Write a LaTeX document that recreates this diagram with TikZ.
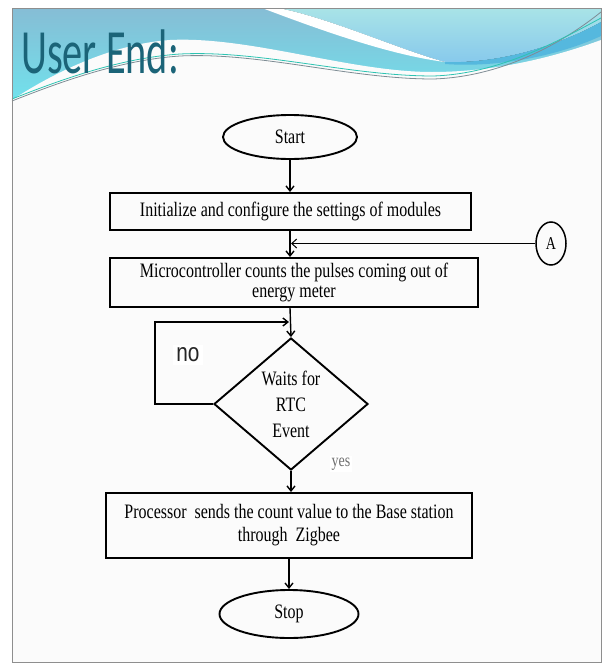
\documentclass[tikz,border=0pt]{standalone}
\usepackage{fontspec}
\setmainfont{Liberation Serif}[FakeStretch=0.78]
\newfontfamily\titlefont{Carlito}[FakeStretch=0.64]
\newfontfamily\labelsans{Liberation Sans}[FakeStretch=0.8]
\usetikzlibrary{shapes.geometric,arrows.meta}
\definecolor{hdtop}{HTML}{86BDD5}
\definecolor{hdbot}{HTML}{6FE4EE}
\definecolor{lighttop}{HTML}{A9E4E7}
\definecolor{lightbot}{HTML}{86C8EC}
\definecolor{stripblue}{HTML}{55B8DE}
\definecolor{bgwhite}{HTML}{FBFBFB}
\definecolor{framegray}{HTML}{8E8E8E}
\definecolor{linegray}{HTML}{7E8C94}
\definecolor{lineteal}{HTML}{2DC3B2}
\definecolor{titlecol}{HTML}{1B6478}
\definecolor{yesgray}{HTML}{707070}
\begin{document}
\begin{tikzpicture}[x=1pt,y=-1pt,
  flowbox/.style={draw=black, line width=1.9pt, rectangle, inner sep=0pt, align=center,
    font=\fontsize{20.5}{20.5}\selectfont},
  term/.style={draw=black, line width=1.9pt, ellipse, inner sep=0pt,
    font=\fontsize{20.5}{20.5}\selectfont},
  decision/.style={draw=black, line width=1.9pt, diamond, inner sep=0pt, align=center,
    font=\fontsize{20.5}{26}\selectfont},
  arr/.style={line width=1.4pt, -{Straight Barb[length=5pt,width=8pt]}},
  thinarr/.style={line width=1pt, -{Straight Barb[length=5pt,width=9pt]}}]
\useasboundingbox (0,0) rectangle (607,664);
% slide background and header
\fill[white] (0,0) rectangle (607,664);
\fill[top color=hdtop, bottom color=hdbot] (12,8) rectangle (601,108);
\fill[top color=lighttop, bottom color=lightbot] (278,8) .. controls (330,18) and (400,50) .. (445,62)
  .. controls (500,64) and (560,45) .. (601,22) -- (601,8) -- cycle;
\fill[stripblue] (445,62) .. controls (500,64) and (560,45) .. (601,22) -- (601,36)
  .. controls (560,55) and (500,68) .. (445,64) -- cycle;
\fill[white] (278,8) .. controls (330,18) and (400,50) .. (445,62)
  .. controls (390,55) and (320,30) .. (262,8) -- cycle;
\fill[bgwhite] (12,100) .. controls (50,75) and (110,44) .. (170,40)
  .. controls (250,36) and (350,72) .. (432,72) .. controls (500,72) and (560,55) .. (601,40)
  -- (601,662) -- (12,662) -- cycle;
\draw[linegray, line width=0.8pt] (12,101) .. controls (60,82) and (120,60) .. (180,56)
  .. controls (260,52) and (350,79) .. (433,79) .. controls (500,77) and (560,45) .. (601,12);
\draw[lineteal, line width=0.8pt] (12,99) .. controls (60,80) and (120,58) .. (180,54)
  .. controls (260,50) and (350,76) .. (433,76) .. controls (500,74) and (560,40) .. (601,18);
\draw[framegray, line width=1pt] (12,8) rectangle (601,662);
\node[anchor=base west, inner sep=0pt, text=titlecol,
  font=\titlefont\fontsize{63}{63}\selectfont] (title) at (21,73) {User End:};
% flowchart
\node[term, minimum width=134pt, minimum height=44pt] (start) at (290,137) {Start};
\node[flowbox, minimum width=361pt, minimum height=37pt] (init) at (290.5,211.5)
  {Initialize and configure the settings of modules};
\node[flowbox, minimum width=368pt, minimum height=49pt] (micro) at (294,282.5)
  {Microcontroller counts the pulses coming out of\\energy meter};
\node[decision, minimum width=154pt, minimum height=132pt] (dia) at (291,404)
  {Waits for\\RTC\\Event};
\node[flowbox, minimum width=366pt, minimum height=65pt,
  font=\fontsize{20.5}{23}\selectfont] (proc) at (289,525.5)
  {Processor\ \ sends the count value to the Base station\\through\ \ Zigbee};
\node[term, minimum width=139pt, minimum height=48pt] (stop) at (289,614) {Stop};
\node[draw=black, line width=1.5pt, ellipse, minimum width=30pt, minimum height=43pt,
  inner sep=0pt, font=\fontsize{18}{18}\selectfont] (A) at (551,243.5) {A};
\node[fill=white, inner sep=3pt, text=black!85,
  font=\labelsans\fontsize{26}{26}\selectfont] (no) at (188,355) {no};
\node[fill=white, inner sep=2pt, text=yesgray,
  font=\fontsize{18}{18}\selectfont] (yes) at (341,464) {yes};
\coordinate (loopL) at (155,404);
\coordinate (join) at (289,322);
% connectors
\draw[arr] (start.south) -- (start.south |- init.north);
\draw[arr] (init.south -| start.south) -- (start.south |- micro.north);
\draw[thinarr] (A.west) -- (A.west -| 291,0);
\draw[arr] (micro.south -| start.south) -- (dia.north);
\draw[arr] (dia.west) -- (loopL) |- (join);
\draw[arr] (dia.south) -- (dia.south |- proc.north);
\draw[arr] (proc.south -| stop.north) -- (stop.north);
\end{tikzpicture}
\end{document}
